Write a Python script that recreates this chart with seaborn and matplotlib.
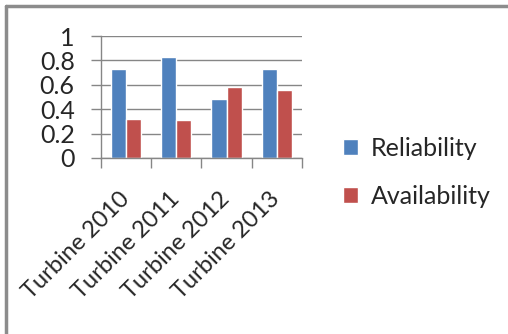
import pandas as pd
import numpy as np
import seaborn as sns
from matplotlib import pyplot as plt
from matplotlib.lines import Line2D
from matplotlib.ticker import FixedLocator

categories = ["Turbine 2010", "Turbine 2011", "Turbine 2012", "Turbine 2013"]
reliability = [0.73, 0.83, 0.48, 0.73]
availability = [0.32, 0.31, 0.58, 0.56]
series_names = ["Reliability", "Availability"]
y_ticks = [0, 0.2, 0.4, 0.6, 0.8, 1]
y_tick_labels = ["0", "0.2", "0.4", "0.6", "0.8", "1"]

df = pd.DataFrame({
    "category": categories * 2,
    "series": [series_names[0]] * 4 + [series_names[1]] * 4,
    "value": reliability + availability,
})

sns.set_style("white")
plt.rcParams['font.family'] = ['Lato', 'DejaVu Sans']

fig = plt.figure(figsize=(5.08, 3.34), dpi=100)
ax = fig.add_axes([0.199, 0.527, 0.395, 0.365])

sns.barplot(data=df, x="category", y="value", hue="series",
            palette=["#4F81BD", "#C0504D"], width=0.6, gap=0,
            saturation=1, ax=ax, errorbar=None)

grid_c = "#868686"
ax.set_ylim(0, 1)
ax.set_xlim(-0.5, 3.5)
ax.set_yticks(y_ticks)
ax.set_yticklabels(y_tick_labels, fontsize=18)
ax.yaxis.grid(True, color=grid_c, linewidth=1)
ax.set_axisbelow(True)
for s in ["top", "right"]:
    ax.spines[s].set_visible(False)
for s in ["left", "bottom"]:
    ax.spines[s].set_color(grid_c)
    ax.spines[s].set_linewidth(1)
ax.tick_params(axis="y", length=7, color=grid_c, width=1, pad=12, left=True)

ax.xaxis.set_minor_locator(FixedLocator(np.arange(-0.5, 4, 1)))
ax.tick_params(axis="x", which="minor", length=7, color=grid_c, width=1, bottom=True)
ax.tick_params(axis="x", which="major", length=0, pad=27)
ax.set_xticks(range(len(categories)))
ax.set_xticklabels(categories, fontsize=17, rotation=45, ha="right",
                   va="center", rotation_mode="anchor")
ax.set_xlabel("")
ax.set_ylabel("")

handles, labels = ax.get_legend_handles_labels()
ax.legend_.remove()
fig.legend(handles, labels, loc="center left", bbox_to_anchor=(0.631, 0.484),
           frameon=False, fontsize=18, handlelength=0.6, handleheight=0.6,
           handletextpad=0.5, labelspacing=1.0)

fig.add_artist(Line2D([0.012, 0.012], [0, 0.982], color="#8C8C8C", linewidth=2.5))
fig.add_artist(Line2D([0.012, 1], [0.982, 0.982], color="#8C8C8C", linewidth=2.5))

fig.savefig("out.png", dpi=100, facecolor="white")
